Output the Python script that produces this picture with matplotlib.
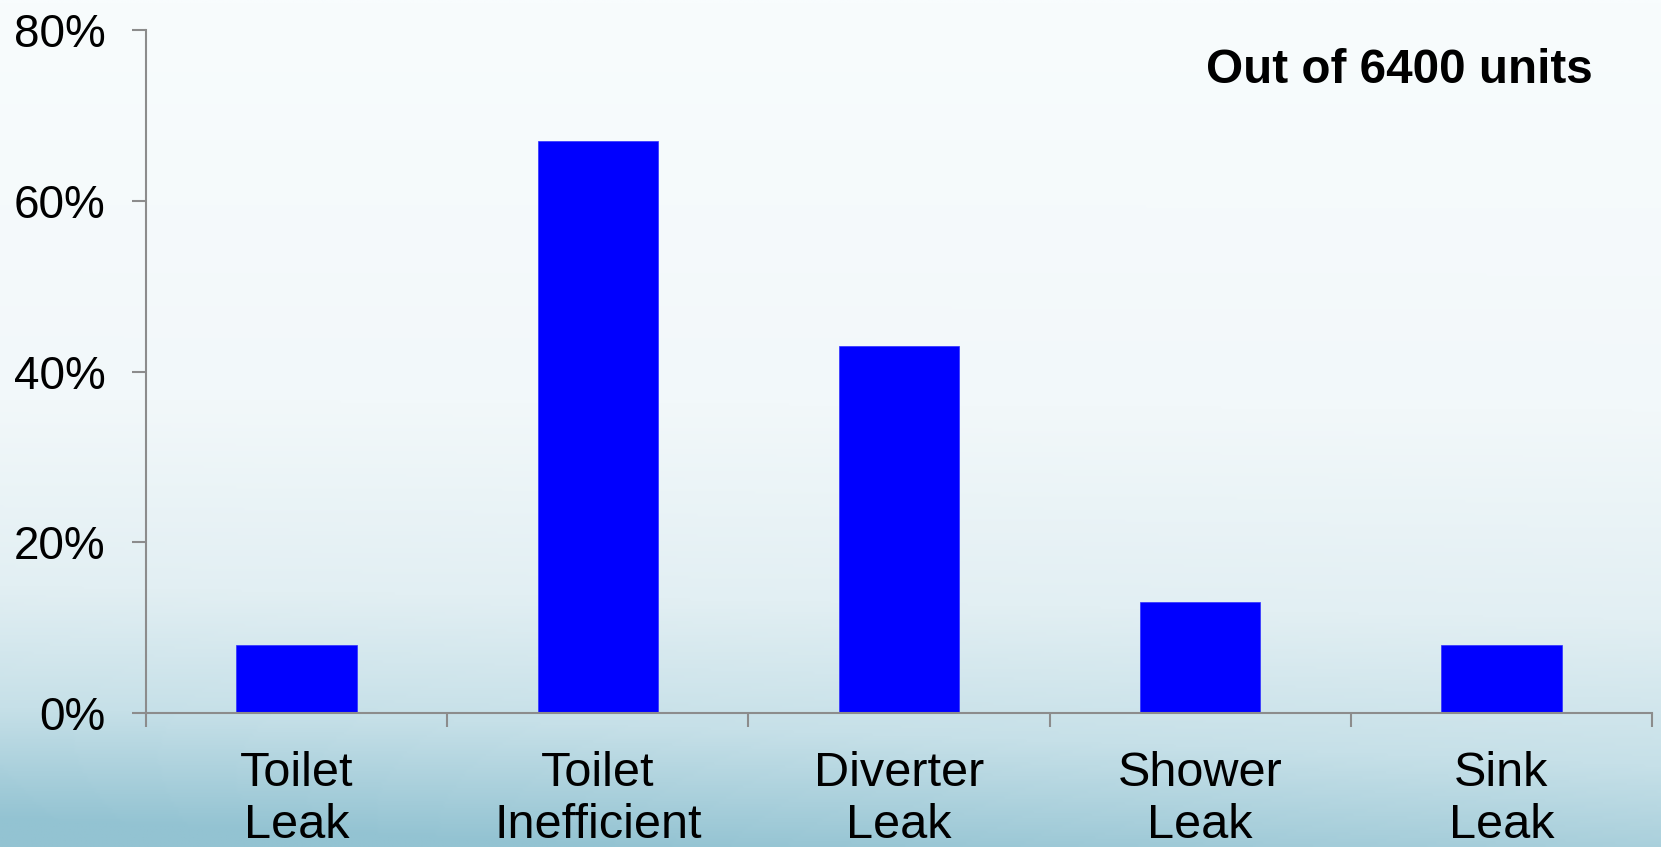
import numpy as np
import matplotlib
matplotlib.use('Agg')
import matplotlib.pyplot as plt
from matplotlib.colors import LinearSegmentedColormap

categories = ['Toilet\nLeak', 'Toilet\nInefficient', 'Diverter\nLeak', 'Shower\nLeak', 'Sink\nLeak']
shares = [8, 67, 43, 13, 8]
y_ticks = [0, 20, 40, 60, 80]
note = 'Out of 6400 units'

plt.rcParams['font.family'] = ['Liberation Sans', 'DejaVu Sans']

fig = plt.figure(figsize=(16.61, 8.47), dpi=100)

# background: pale top fading into a blue-ish bottom
bg = fig.add_axes([0, 0, 1, 1], zorder=-10)
bg.axis('off')
cmap = LinearSegmentedColormap.from_list('bg', [
    (0.0, '#f8fcfd'), (0.45, '#f2f8fa'), (0.68, '#e2eff3'),
    (0.84, '#c6e0e8'), (1.0, '#93c3d2')])
yy, xx = np.mgrid[0:1:300j, 0:1:400j]
grad = yy + 0.12 * (1 - xx) * yy ** 3
bg.imshow(grad, cmap=cmap, aspect='auto', extent=[0, 1, 1, 0], vmin=0, vmax=1.08)
bg.set_xlim(0, 1)
bg.set_ylim(1, 0)

ax = fig.add_axes([0.0879, 0.158, 0.9067, 0.8066])
ax.patch.set_alpha(0)
x = np.arange(len(categories))
ax.bar(x, shares, width=0.4, color='#0000ff', edgecolor='#3030ff', linewidth=0.5)

ax.set_xlim(-0.5, len(categories) - 0.5)
ax.set_ylim(0, 80)
ax.set_yticks(y_ticks)
ax.set_yticklabels(['%d%%' % v for v in y_ticks])
ax.set_xticks(np.arange(len(categories) + 1) - 0.5)
ax.set_xticklabels([])
ax.set_xticks(x, minor=True)
ax.set_xticklabels(categories, minor=True, linespacing=1.2)

for s in ['top', 'right']:
    ax.spines[s].set_visible(False)
for s in ['left', 'bottom']:
    ax.spines[s].set_color('#8c8c8c')
    ax.spines[s].set_linewidth(1.5)

ax.tick_params(axis='both', which='major', color='#8c8c8c', width=1.5, length=10,
               direction='out', labelsize=33, labelcolor='black')
ax.tick_params(axis='y', pad=19)
ax.tick_params(axis='x', which='minor', length=0, labelsize=35, pad=27)

ax.text(0.832, 0.94, note, transform=ax.transAxes, ha='center', va='center',
        fontsize=34.3, fontweight='bold')

fig.savefig('out.png', dpi=100)
